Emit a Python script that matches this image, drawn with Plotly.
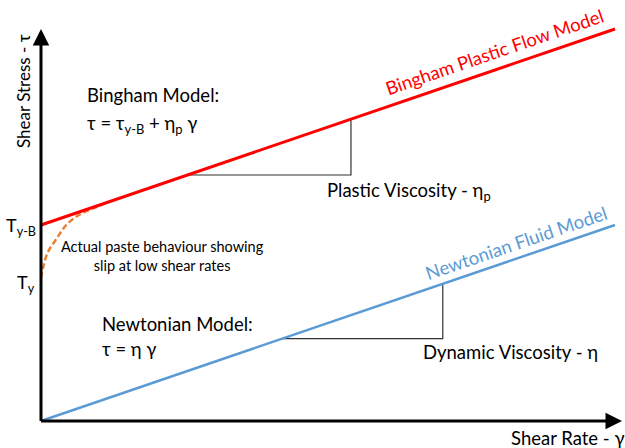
import plotly.graph_objects as go

# ---- data (conceptual units) ----
shear_rate = [0.0, 10.0]
bingham_stress = [10.0, 20.0]
newtonian_stress = [0.0, 10.0]

plastic_tri_rate = [2.55, 5.4, 5.4]
plastic_tri_stress = [12.55, 12.55, 15.4]
dynamic_tri_rate = [4.2, 7.0, 7.0]
dynamic_tri_stress = [4.2, 4.2, 7.0]

slip_rate = [0.0, 0.035, 0.12, 0.28, 0.44, 0.66, 0.98, 1.12]
slip_stress = [7.3, 7.81, 8.62, 9.34, 10.0, 10.51, 10.93, 11.1]

# ---- layout mapping (pixels) ----
W, H = 625, 448
X0, PX_X = 41, 57.4      # pixel of rate 0, pixels per unit
Y0, PX_Y = 421, 19.6     # pixel of stress 0, pixels per unit


def gx(px):
    return (px - X0) / PX_X


def gy(py):
    return (Y0 - py) / PX_Y


FONT = "Lato"
RED = "#FF0000"
BLUE = "#5B9BD5"
ORANGE = "#ED7D31"
TRI = "#303030"
FS = 18.5

fig = go.Figure()

fig.add_trace(go.Scatter(x=plastic_tri_rate, y=plastic_tri_stress, mode="lines",
                         line=dict(color=TRI, width=1.2), hoverinfo="skip"))
fig.add_trace(go.Scatter(x=dynamic_tri_rate, y=dynamic_tri_stress, mode="lines",
                         line=dict(color=TRI, width=1.2), hoverinfo="skip"))
fig.add_trace(go.Scatter(x=slip_rate, y=slip_stress, mode="lines", line_shape="spline",
                         line=dict(color=ORANGE, width=2.5, dash="6px,3px"), hoverinfo="skip"))
fig.add_trace(go.Scatter(x=shear_rate, y=bingham_stress, mode="lines",
                         line=dict(color=RED, width=3), hoverinfo="skip"))
fig.add_trace(go.Scatter(x=shear_rate, y=newtonian_stress, mode="lines",
                         line=dict(color=BLUE, width=2.5), hoverinfo="skip"))

ann = []
# axes arrows
ann.append(dict(x=gx(622), y=0, ax=gx(39.5), ay=0, xref="x", yref="y", axref="x", ayref="y",
                text="", showarrow=True, arrowhead=2, arrowsize=1.1, arrowwidth=3, arrowcolor="black"))
ann.append(dict(x=0, y=gy(29), ax=0, ay=gy(422.5), xref="x", yref="y", axref="x", ayref="y",
                text="", showarrow=True, arrowhead=2, arrowsize=1.1, arrowwidth=3, arrowcolor="black"))


def txt(t, px, py, size=FS, color="black", xanchor="left", yanchor="middle", angle=0):
    ann.append(dict(text=t, x=gx(px), y=gy(py), xref="x", yref="y", showarrow=False,
                    xanchor=xanchor, yanchor=yanchor, textangle=angle,
                    font=dict(family=FONT, size=size, color=color)))


txt("Shear Stress - τ", 23, 91, size=17, angle=-90, xanchor="center")
txt("Shear Rate - γ", 509, 438)
txt("Bingham Model:", 85, 95)
txt("τ = τ<sub>y-B</sub> + η<sub>p</sub> γ", 85, 124)
txt("Plastic Viscosity - η<sub>p</sub>", 325, 191)
txt("Newtonian Model:", 100, 324)
txt("τ = η γ", 100, 349)
txt("Dynamic Viscosity - η", 421, 352)
txt("Actual paste behaviour showing<br>slip at low shear rates", 59, 256, size=14.5)
txt("T<sub>y-B</sub>", 4, 226, size=18)
txt("T<sub>y</sub>", 15, 283, size=18)
txt("Bingham Plastic Flow Model", 494, 52, color=RED, xanchor="center", angle=-18.85)
txt("Newtonian Fluid Model", 516, 243, color=BLUE, xanchor="center", angle=-18.85)

fig.update_layout(
    width=W, height=H, autosize=False,
    margin=dict(l=0, r=0, t=0, b=0),
    paper_bgcolor="white", plot_bgcolor="white",
    showlegend=False,
    annotations=ann,
    xaxis=dict(range=[gx(0), gx(W)], visible=False, fixedrange=True),
    yaxis=dict(range=[gy(H), gy(0)], visible=False, fixedrange=True),
)

fig.write_html("out.html", config={"displayModeBar": False},
               post_script="document.body.style.margin='0';document.body.style.overflow='hidden';")
